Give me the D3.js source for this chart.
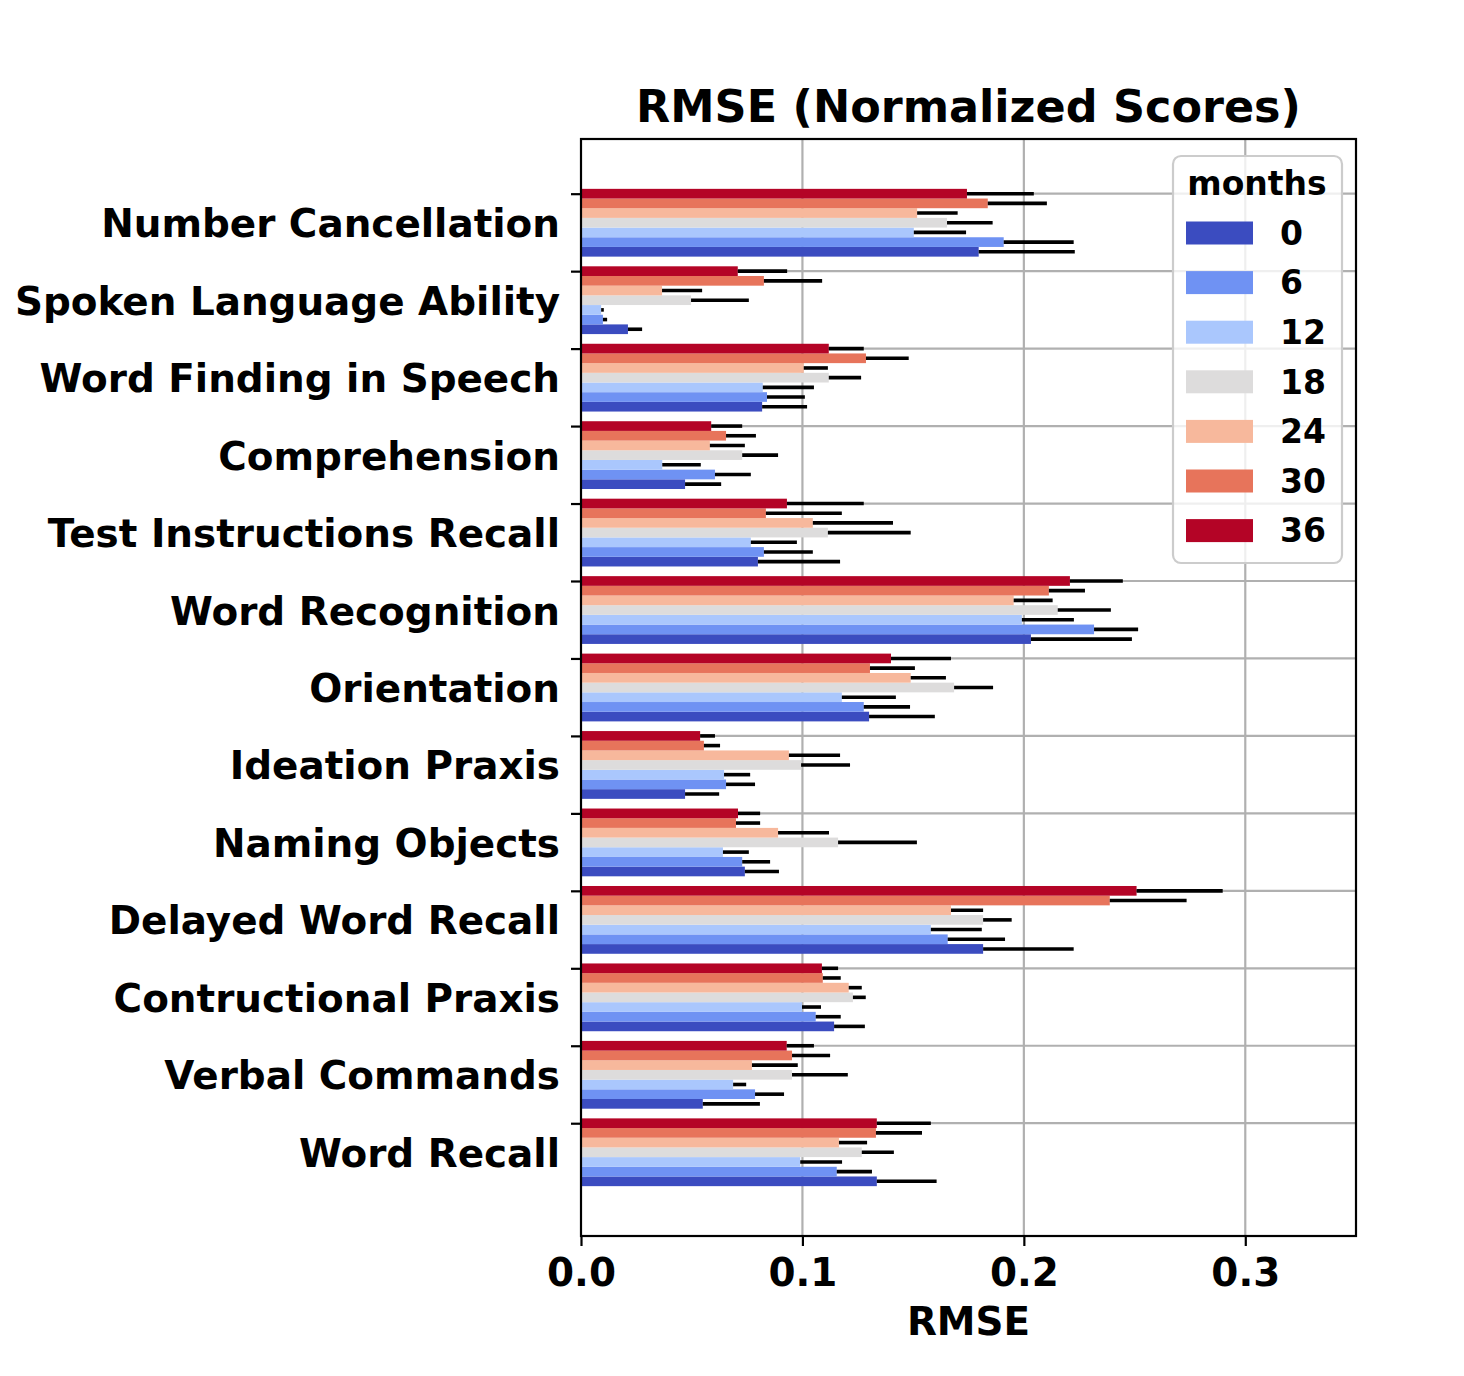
<!DOCTYPE html>
<html lang="en">
<head>
    <meta charset="UTF-8">
    <title>RMSE (Normalized Scores)</title>
    <script src="https://d3js.org/d3.v7.min.js"></script>
    <style>
        body { margin: 0; background: #fff; }
        svg { display: block; font-family: "DejaVu Sans", sans-serif; font-weight: bold; }
        .grid line { stroke: #b0b0b0; stroke-width: 2.2px; }
        .axis path { display: none; }
        .axis line { stroke: #000; stroke-width: 2.2px; }
        .axis text { font-size: 38.9px; font-weight: bold; fill: #000; font-family: "DejaVu Sans", sans-serif; }
    </style>
</head>
<body>
<svg id="chart" width="1464" height="1376"></svg>
<script>
    const categories = [
        "Number Cancellation", "Spoken Language Ability", "Word Finding in Speech",
        "Comprehension", "Test Instructions Recall", "Word Recognition", "Orientation",
        "Ideation Praxis", "Naming Objects", "Delayed Word Recall", "Contructional Praxis",
        "Verbal Commands", "Word Recall"
    ];
    const months = ["0", "6", "12", "18", "24", "30", "36"];
    const colors = ["#3b4cc0", "#6f92f3", "#aac7fd", "#dddcdc", "#f7b89c", "#e7745b", "#b40426"];
    const xTicks = [0, 0.1, 0.2, 0.3];

    // RMSE per month, one value per category (same order as categories)
    const rmse0  = [0.1796, 0.0212, 0.0818, 0.0470, 0.0799, 0.2032, 0.1301, 0.0470, 0.0740, 0.1816, 0.1143, 0.0550, 0.1336];
    const rmse6  = [0.1909, 0.0099, 0.0840, 0.0605, 0.0826, 0.2317, 0.1277, 0.0655, 0.0728, 0.1656, 0.1060, 0.0786, 0.1155];
    const rmse12 = [0.1503, 0.0091, 0.0821, 0.0367, 0.0767, 0.1991, 0.1178, 0.0646, 0.0641, 0.1580, 0.0998, 0.0687, 0.0990];
    const rmse18 = [0.1653, 0.0497, 0.1119, 0.0728, 0.1115, 0.2153, 0.1685, 0.0994, 0.1161, 0.1816, 0.1228, 0.0953, 0.1268];
    const rmse24 = [0.1518, 0.0366, 0.1006, 0.0582, 0.1047, 0.1954, 0.1489, 0.0939, 0.0890, 0.1671, 0.1209, 0.0772, 0.1165];
    const rmse30 = [0.1837, 0.0826, 0.1287, 0.0655, 0.0835, 0.2113, 0.1305, 0.0555, 0.0700, 0.2388, 0.1092, 0.0953, 0.1332];
    const rmse36 = [0.1743, 0.0708, 0.1119, 0.0588, 0.0930, 0.2208, 0.1400, 0.0538, 0.0709, 0.2509, 0.1088, 0.0929, 0.1336];

    // error (std) per month
    const err0  = [0.0434, 0.0064, 0.0203, 0.0163, 0.0371, 0.0456, 0.0297, 0.0154, 0.0154, 0.0409, 0.0139, 0.0258, 0.0270];
    const err6  = [0.0316, 0.0019, 0.0171, 0.0162, 0.0221, 0.0199, 0.0209, 0.0131, 0.0126, 0.0259, 0.0113, 0.0131, 0.0159];
    const err12 = [0.0236, 0.0012, 0.0231, 0.0174, 0.0208, 0.0235, 0.0244, 0.0118, 0.0117, 0.0230, 0.0086, 0.0059, 0.0189];
    const err18 = [0.0206, 0.0261, 0.0146, 0.0162, 0.0374, 0.0240, 0.0176, 0.0221, 0.0356, 0.0129, 0.0058, 0.0252, 0.0145];
    const err24 = [0.0183, 0.0181, 0.0109, 0.0158, 0.0362, 0.0176, 0.0159, 0.0231, 0.0230, 0.0145, 0.0059, 0.0207, 0.0127];
    const err30 = [0.0267, 0.0263, 0.0193, 0.0135, 0.0343, 0.0163, 0.0203, 0.0073, 0.0109, 0.0347, 0.0081, 0.0172, 0.0208];
    const err36 = [0.0302, 0.0223, 0.0158, 0.0140, 0.0347, 0.0239, 0.0271, 0.0067, 0.0100, 0.0389, 0.0073, 0.0123, 0.0244];

    const values = [rmse0, rmse6, rmse12, rmse18, rmse24, rmse30, rmse36];
    const errors = [err0, err6, err12, err18, err24, err30, err36];

    const plot = {left: 581, right: 1356, top: 139, bottom: 1236};
    const barW = 0.125;
    const nSeries = months.length;

    const x = d3.scaleLinear().domain([0, 0.35]).range([plot.left, plot.right]);
    // category i sits at i, bar for month k is at i + (nSeries-1-k)*barW (month 36 on top)
    const y = d3.scaleLinear().domain([-0.706, 13.456]).range([plot.top, plot.bottom]);
    const barPx = y(barW) - y(0);
    const labelShift = y((nSeries - 1) / 2 * barW) - y(0);

    const svg = d3.select("#chart");

    // grid
    const grid = svg.append("g").attr("class", "grid");
    grid.selectAll(".gx").data(xTicks.slice(1)).join("line")
        .attr("x1", d => x(d)).attr("x2", d => x(d))
        .attr("y1", plot.top).attr("y2", plot.bottom);
    grid.selectAll(".gy").data(d3.range(categories.length)).join("line")
        .attr("x1", plot.left).attr("x2", plot.right)
        .attr("y1", d => y(d)).attr("y2", d => y(d));

    // rows: one entry per bar
    const rows = [];
    categories.forEach((c, i) => {
        months.forEach((m, k) => {
            rows.push({i, k, v: values[k][i], e: errors[k][i], pos: i + (nSeries - 1 - k) * barW});
        });
    });

    svg.append("g").selectAll("rect").data(rows).join("rect")
        .attr("x", x(0))
        .attr("y", d => y(d.pos) - barPx / 2)
        .attr("width", d => x(d.v) - x(0))
        .attr("height", barPx)
        .attr("fill", d => colors[d.k]);

    svg.append("g").selectAll("line").data(rows).join("line")
        .attr("x1", d => x(d.v))
        .attr("x2", d => x(d.v + d.e))
        .attr("y1", d => y(d.pos))
        .attr("y2", d => y(d.pos))
        .attr("stroke", "#000")
        .attr("stroke-width", 3.6);

    // axes
    svg.append("g")
        .attr("class", "axis")
        .attr("transform", `translate(0,${plot.bottom})`)
        .call(d3.axisBottom(x).tickValues(xTicks).tickFormat(d3.format(".1f")).tickSize(10).tickPadding(12));

    const yAxis = svg.append("g")
        .attr("class", "axis")
        .attr("transform", `translate(${plot.left},0)`)
        .call(d3.axisLeft(y).tickValues(d3.range(categories.length))
            .tickFormat(i => categories[i]).tickSize(10).tickPadding(11));
    yAxis.selectAll("text").attr("y", labelShift).attr("dy", "0.36em");

    // frame
    svg.append("rect")
        .attr("x", plot.left).attr("y", plot.top)
        .attr("width", plot.right - plot.left).attr("height", plot.bottom - plot.top)
        .attr("fill", "none").attr("stroke", "#000").attr("stroke-width", 2.2);

    // title and x label
    svg.append("text")
        .attr("x", (plot.left + plot.right) / 2).attr("y", 122)
        .attr("text-anchor", "middle").attr("font-size", 44.5)
        .text("RMSE (Normalized Scores)");
    svg.append("text")
        .attr("x", (plot.left + plot.right) / 2).attr("y", 1335)
        .attr("text-anchor", "middle").attr("font-size", 38.9)
        .text("RMSE");

    // legend
    const legend = svg.append("g").attr("transform", "translate(1173,156)");
    legend.append("rect")
        .attr("width", 169).attr("height", 407)
        .attr("rx", 8).attr("ry", 8)
        .attr("fill", "#fff").attr("fill-opacity", 0.8)
        .attr("stroke", "#cccccc").attr("stroke-width", 2.2);
    legend.append("text")
        .attr("x", 84).attr("y", 39)
        .attr("text-anchor", "middle").attr("font-size", 33)
        .text("months");
    const entry = legend.selectAll(".entry").data(months).join("g")
        .attr("transform", (d, k) => `translate(0,${77 + k * 49.6})`);
    entry.append("rect")
        .attr("x", 13).attr("y", -11.5)
        .attr("width", 67).attr("height", 23)
        .attr("fill", (d, k) => colors[k]);
    entry.append("text")
        .attr("x", 107).attr("dy", "0.36em")
        .attr("font-size", 33)
        .text(d => d);
</script>
</body>
</html>
